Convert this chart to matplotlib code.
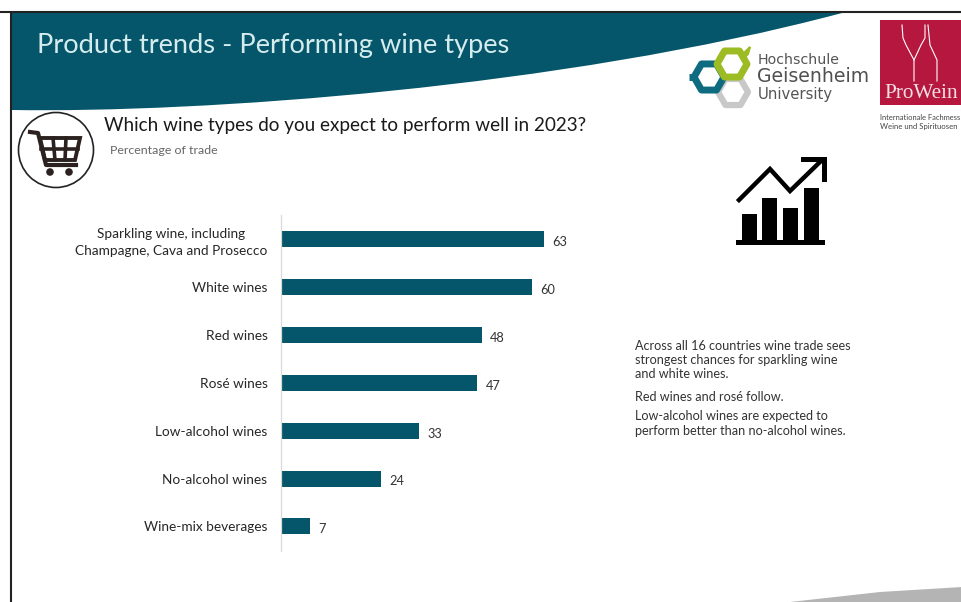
import matplotlib
matplotlib.use('Agg')
import matplotlib.pyplot as plt
from matplotlib.patches import Circle, PathPatch, Polygon, Rectangle
from matplotlib.path import Path

# Survey values
wine_types = ['Sparkling wine, including\nChampagne, Cava and Prosecco', 'White wines', 'Red wines',
              'Rosé wines', 'Low-alcohol wines', 'No-alcohol wines', 'Wine-mix beverages']
percentages = [63, 60, 48, 47, 33, 24, 7]

summary_lines = ['Across all 16 countries wine trade sees', 'strongest chances for sparkling wine',
                 'and white wines.', 'Red wines and rosé follow.', 'Low-alcohol wines are expected to',
                 'perform better than no-alcohol wines.']
summary_y = [346, 360, 374, 397, 416, 431]

TEAL = '#05566a'
W, H = 962, 602
plt.rcParams['font.family'] = ['Lato', 'DejaVu Sans']

fig = plt.figure(figsize=(W / 100, H / 100), dpi=100, facecolor='white')

# Slide layer in pixel coordinates
bg = fig.add_axes([0, 0, 1, 1])
bg.set_xlim(0, W)
bg.set_ylim(H, 0)
bg.axis('off')

# Curved header band
band = Path([(12, 12), (12, 110), (200, 113), (560, 88), (842, 13), (842, 12), (12, 12)],
            [Path.MOVETO, Path.LINETO, Path.CURVE4, Path.CURVE4, Path.CURVE4, Path.LINETO, Path.CLOSEPOLY])
bg.add_patch(PathPatch(band, fc=TEAL, ec='none'))

# Grey wedge in the lower corner
bg.add_patch(Polygon([(790, 602), (880, 592), (962, 587), (962, 602)], fc='#b4b4b4', ec='none'))

# Slide frame
bg.plot([0, W], [11.5, 11.5], color='#222222', lw=1.5, solid_capstyle='butt')
bg.plot([11.5, 11.5], [11, H], color='#222222', lw=1.5, solid_capstyle='butt')

bg.text(37, 46, 'Product trends - Performing wine types', color='#d5ecee', fontsize=19.6, va='center')
bg.text(104, 125, 'Which wine types do you expect to perform well in 2023?', color='#1a1a1a',
        fontsize=13.6, va='center')
bg.text(110, 151, 'Percentage of trade', color='#666666', fontsize=8.9, va='center')

# Shopping cart icon
CART = '#2b2220'
bg.add_patch(Circle((56, 150), 37.5, fc='white', ec='#222222', lw=1.2))
bg.plot([30, 38, 46, 76], [132, 133, 165, 165], color=CART, lw=3, solid_joinstyle='round')
bg.add_patch(Polygon([(40, 138), (80, 138), (75, 160), (45, 160)], fc='none', ec=CART, lw=2.8))
bg.plot([41, 78], [149, 149], color=CART, lw=2.6)
for gx0, gx1 in [(53, 55), (66, 65)]:
    bg.plot([gx0, gx1], [138, 160], color=CART, lw=2.6)
bg.add_patch(Circle((50, 172), 3.8, fc=CART, ec='none'))
bg.add_patch(Circle((69, 172), 3.8, fc=CART, ec='none'))

# University logo built from hexagons
def hexagon(cx, cy, r, **kw):
    pts = [(cx - r, cy), (cx - r / 2, cy - r * 0.87), (cx + r / 2, cy - r * 0.87),
           (cx + r, cy), (cx + r / 2, cy + r * 0.87), (cx - r / 2, cy + r * 0.87)]
    bg.add_patch(Polygon(pts, fc='none', joinstyle='round', **kw))

hexagon(733, 92, 15, ec='#c8c8c8', lw=4.5)
hexagon(709, 77, 15, ec='#0f6b80', lw=5)
hexagon(732, 64, 15, ec='#9dbb23', lw=5)
bg.plot([689, 696], [77, 77], color='#0f6b80', lw=5, solid_capstyle='butt')
bg.add_patch(Polygon([(741, 56), (748, 49), (750, 47), (748, 54), (743, 59)], fc='#9dbb23', ec='#9dbb23', lw=1.5))
bg.text(758, 60, 'Hochschule', color='#555555', fontsize=10.2, va='center', family='DejaVu Sans')
bg.text(757, 77, 'Geisenheim', color='#505050', fontsize=13.6, va='center', family='DejaVu Sans')
bg.text(758, 94, 'University', color='#555555', fontsize=10.7, va='center', family='DejaVu Sans')

# Trade fair logo
bg.add_patch(Rectangle((880, 20), 82, 85, fc='#b5173f', ec='none'))
bg.plot([902, 903, 906, 914, 914], [25, 38, 45, 60, 81], color='white', lw=0.8)
bg.plot([925, 925, 921, 914], [25, 38, 45, 60], color='white', lw=0.8)
bg.plot([928, 930, 937, 937], [25, 45, 60, 81], color='white', lw=0.8)
bg.text(884, 93, 'ProWein', color='#f4dfe4', fontsize=15.3, va='center', family='Liberation Serif')
bg.text(880, 118, 'Internationale Fachmess', color='#444444', fontsize=5.4, va='center')
bg.text(880, 127, 'Weine und Spirituosen', color='#444444', fontsize=5.6, va='center')

# Growth chart icon
bg.add_patch(Rectangle((736, 240), 89, 5, fc='black', ec='none'))
for ix, iy in [(742, 214), (762, 198), (783, 208), (804, 188)]:
    bg.add_patch(Rectangle((ix, iy), 15, 240 - iy, fc='black', ec='none'))
bg.plot([739, 770, 790, 822], [200, 169, 191, 160], color='black', lw=3.2, solid_joinstyle='miter')
bg.plot([803, 824, 824], [159, 159, 179], color='black', lw=3.6, solid_joinstyle='miter')

for line, y in zip(summary_lines, summary_y):
    bg.text(635, y, line, color='#333333', fontsize=9.1, va='center')

# Horizontal bars
px_per_unit = 4.18
ax = fig.add_axes([281 / W, 1 - 551 / H, 80 * px_per_unit / W, 336 / H])
ax.patch.set_alpha(0)
positions = list(range(len(wine_types)))
ax.barh(positions, percentages, height=0.335, color=TEAL, zorder=2)
ax.set_xlim(0, 80)
ax.set_ylim(6.513, -0.512)
ax.set_yticks(positions)
ax.set_yticklabels(wine_types, fontsize=9.8, color='#262626', multialignment='center', linespacing=1.5)
ax.tick_params(axis='y', length=0, pad=9.8)
ax.xaxis.set_visible(False)
for side in ['top', 'right', 'bottom']:
    ax.spines[side].set_visible(False)
ax.spines['left'].set_color('#d9d9d9')
ax.spines['left'].set_linewidth(0.9)

# Value labels next to the bars
for pos, val in zip(positions, percentages):
    ax.annotate(str(val), (val, pos), xytext=(6, -2), textcoords='offset points',
                va='center', ha='left', fontsize=9.2, color='#333333')

fig.savefig('out.png', dpi=100)
